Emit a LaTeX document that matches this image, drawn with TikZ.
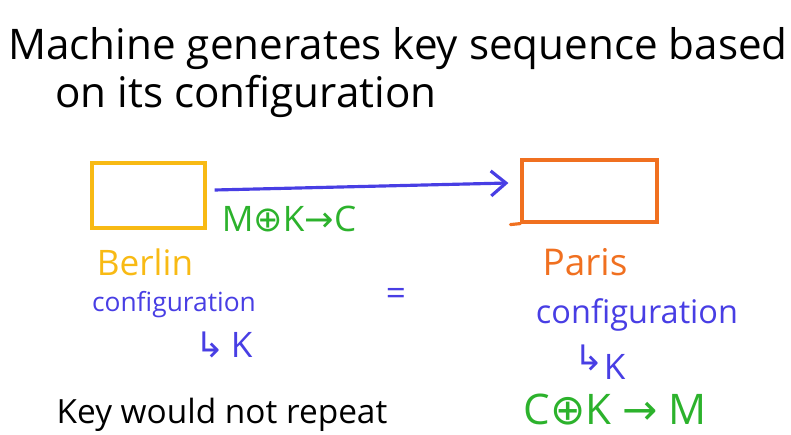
\documentclass[tikz,border=0pt]{standalone}
\usepackage{fontspec}
\setmainfont{Open Sans}
\newfontfamily\symfont{DejaVu Sans}
\usetikzlibrary{positioning,arrows.meta}

\definecolor{berlinyellow}{RGB}{248,186,20}
\definecolor{parisorange}{RGB}{240,112,32}
\definecolor{configblue}{RGB}{72,62,228}
\definecolor{cipheregreen}{RGB}{44,178,44}

\begin{document}
\begin{tikzpicture}[x=0.02cm, y=0.02cm,
        machine/.style={draw, line width=1.8pt, inner sep=0pt},
        berlinbox/.style={machine, draw=berlinyellow, minimum width=2.26cm, minimum height=1.3cm},
        parisbox/.style={machine, draw=parisorange, minimum width=2.7cm, minimum height=1.24cm},
        note/.style={inner sep=0pt, font=\fontsize{15}{15}\selectfont},
        title/.style={inner sep=0pt, anchor=base west, font=\fontsize{24}{24}\selectfont},
        flow/.style={-{Straight Barb[length=3mm, width=5mm]}, line width=1.8pt, draw=configblue}
    ]
        \useasboundingbox (0,0) rectangle (791,-435);
        % heading
        \node[title] (head1) at (8,-60) {Machine generates key sequence based};
        \node[title] (head2) at (55,-108) {on its configuration};
        % the two machines
        \node[berlinbox] (berlin) at (148.5,-195.5) {};
        \node[parisbox] (paris) at (589.5,-191) {};
        \draw[parisorange, line width=1.8pt, line cap=round] (paris.south west) -- ++(-10,-1);
        \draw[flow] ([shift={(8,5.5)}]berlin.east) -- ([shift={(-12,8)}]paris.west);
        \node[note, text=cipheregreen, font=\fontsize{20}{20}\selectfont] (enc) at (289,-219)
            {M{\symfont ⊕}K{\symfont →}C};
        % labels
        \node[note, text=berlinyellow, font=\fontsize{20}{20}\selectfont] (berlinname) at (145,-262) {Berlin};
        \node[note, text=parisorange, font=\fontsize{21}{21}\selectfont] (parisname) at (585,-262) {Paris};
        \node[note, text=configblue] (berlinconf) at (174,-305) {configuration};
        \node[note, text=configblue, font=\fontsize{18.5}{18.5}\selectfont] (parisconf) at (637,-315) {configuration};
        \node[note, text=configblue, font=\fontsize{20}{20}\selectfont] (same) at (396,-297) {=};
        \node[note, text=configblue, font=\fontsize{20}{20}\selectfont] (berlinkey) at (224,-345)
            {{\symfont ↳}\,K};
        \node[note, text=configblue, font=\fontsize{20}{20}\selectfont] (pariskey) at (600,-362)
            {{\symfont ↳}\raisebox{-5pt}{K}};
        \node[note, text=cipheregreen, font=\fontsize{24}{24}\selectfont] (dec) at (615,-410)
            {C{\symfont ⊕}K {\symfont →} M};
        \node[note, text=black, font=\fontsize{19}{19}\selectfont] (repeat) at (222,-415) {Key would not repeat};
    \end{tikzpicture}
\end{document}
